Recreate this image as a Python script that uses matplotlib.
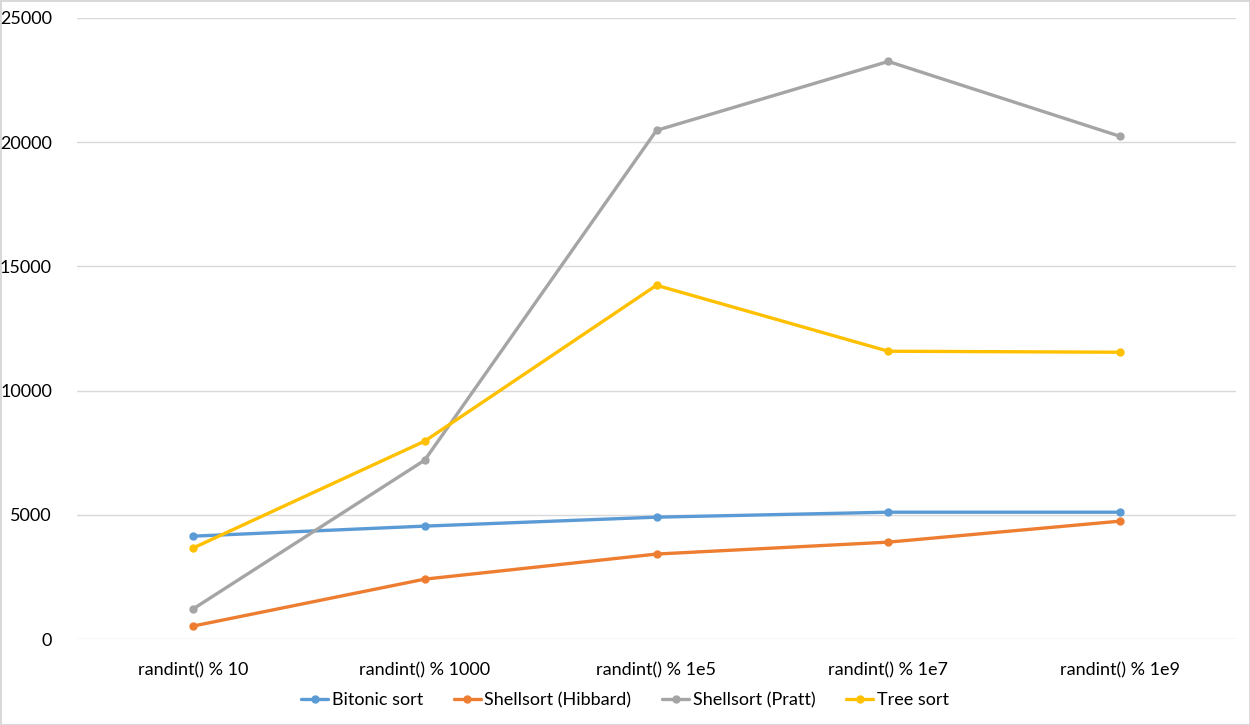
import matplotlib.pyplot as plt

plt.rcParams["font.family"] = ["Lato", "DejaVu Sans"]

categories = ["randint() % 10", "randint() % 1000", "randint() % 1e5",
              "randint() % 1e7", "randint() % 1e9"]
bitonic = [4140, 4545, 4905, 5105, 5105]
hibbard = [520, 2410, 3420, 3900, 4745]
pratt = [1205, 7200, 20475, 23250, 20235]
tree = [3660, 7965, 14240, 11585, 11545]

series = [
    ("Bitonic sort", bitonic, "#5B9BD5"),
    ("Shellsort (Hibbard)", hibbard, "#ED7D31"),
    ("Shellsort (Pratt)", pratt, "#A5A5A5"),
    ("Tree sort", tree, "#FFC000"),
]

fig = plt.figure(figsize=(12.5, 7.25), dpi=100)
fig.patch.set_edgecolor("#D9D9D9")
fig.patch.set_linewidth(2)
ax = fig.add_axes([0.0616, 0.1186, 0.9272, 0.8566])

x = range(len(categories))
for name, vals, color in series:
    ax.plot(x, vals, color=color, lw=2.4, marker="o", ms=5, label=name,
            solid_capstyle="round")

ax.set_xlim(-0.5, len(categories) - 0.5)
ax.set_ylim(0, 25000)
ax.set_yticks(range(0, 25001, 5000))
ax.set_xticks(list(x))
ax.set_xticklabels(categories)
ax.tick_params(length=0, labelsize=13, colors="#000000")
ax.tick_params(axis="x", pad=17)
ax.tick_params(axis="y", pad=18)
ax.grid(axis="y", color="#D9D9D9", lw=1)
ax.set_axisbelow(True)
for s in ax.spines.values():
    s.set_visible(False)

fig.legend(loc="center", bbox_to_anchor=(0.5, 0.034), ncol=4, frameon=False,
           fontsize=13, handlelength=1.5, handletextpad=0.2, columnspacing=1.7)

fig.savefig("out.png", dpi=100, edgecolor=fig.get_edgecolor())
